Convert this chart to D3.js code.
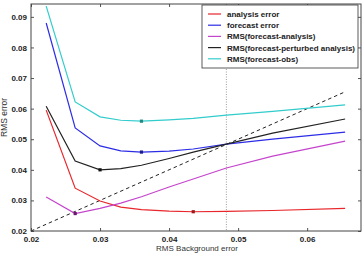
<!DOCTYPE html>
<html>
  <head>
    <meta charset="utf-8">
    <script src="https://d3js.org/d3.v7.min.js"></script>
    <style>
      body { margin: 0; background: #fff; }
      text { font-family: "Liberation Sans", Arial, sans-serif; }
    </style>
  </head>
  <body>
    <div id="my_dataviz"></div>
    <script>
    // background error values (x) shared by every series
    var bgError = [0.0222, 0.0264, 0.030, 0.033, 0.036, 0.040, 0.0435, 0.0483, 0.055, 0.0655];

    var analysisErr = [0.0595, 0.0340, 0.0298, 0.0278, 0.0270, 0.0265, 0.0263, 0.0264, 0.0267, 0.0274];
    var forecastErr = [0.0880, 0.0537, 0.0478, 0.0462, 0.0458, 0.0461, 0.0468, 0.0484, 0.0500, 0.0523];
    var fcAnalysis = [0.0311, 0.0257, 0.0274, 0.0291, 0.0312, 0.0344, 0.0370, 0.0406, 0.0445, 0.0494];
    var fcPerturbed = [0.0608, 0.0429, 0.0400, 0.0404, 0.0415, 0.0437, 0.0458, 0.0484, 0.0520, 0.0566];
    var fcObs = [0.0935, 0.0622, 0.0573, 0.0562, 0.0559, 0.0563, 0.0568, 0.0579, 0.0591, 0.0612];

    var seriesNames = ["analysis error", "forecast error", "RMS(forecast-analysis)",
      "RMS(forecast-perturbed analysis)", "RMS(forecast-obs)"];
    // index of the marked point (minimum) in each series
    var minIndex = [6, 4, 1, 2, 4];

    var xTicks = [0.02, 0.03, 0.04, 0.05, 0.06];
    var yTicks = [0.02, 0.03, 0.04, 0.05, 0.06, 0.07, 0.08, 0.09];
    var diagEnd = 0.0655;
    var optimum = 0.0483;

    var colors = ["#e8262b", "#2c2ce6", "#c544cc", "#222222", "#33cccc"];
    var markColors = ["#a01818", "#1a1a90", "#6a1a6e", "#111111", "#1f8a80"];

    var margin = {top: 4, right: 1, bottom: 22, left: 31},
      width = 362 - margin.left - margin.right,
      height = 253 - margin.top - margin.bottom;

    var svg = d3.select("#my_dataviz")
      .append("svg")
      .attr("width", 362)
      .attr("height", 253)
      .append("g")
      .attr("transform", "translate(" + margin.left + "," + margin.top + ")");

    var x = d3.scaleLinear().domain([0.02, 0.0678]).range([0, width]);
    var y = d3.scaleLinear().domain([0.02, 0.0942]).range([height, 0]);

    // inward ticks on all four sides
    function styleAxis(g) {
      g.select(".domain").remove();
      g.selectAll("line").attr("stroke", "#555");
      g.selectAll("text").attr("font-size", 8).attr("font-weight", "bold").attr("fill", "#222");
    }
    svg.append("g").attr("transform", "translate(0," + height + ")")
      .call(d3.axisBottom(x).tickValues(xTicks).tickSizeInner(-3).tickSizeOuter(0).tickPadding(5).tickFormat(d3.format(".2f")))
      .call(styleAxis);
    svg.append("g")
      .call(d3.axisTop(x).tickValues(xTicks).tickSizeInner(-3).tickSizeOuter(0).tickFormat(""))
      .call(styleAxis);
    svg.append("g")
      .call(d3.axisLeft(y).tickValues(yTicks).tickSizeInner(-3).tickSizeOuter(0).tickPadding(4).tickFormat(d3.format(".2f")))
      .call(styleAxis);
    svg.append("g").attr("transform", "translate(" + width + ",0)")
      .call(d3.axisRight(y).tickValues(yTicks).tickSizeInner(-3).tickSizeOuter(0).tickFormat(""))
      .call(styleAxis);

    // optimum marker line
    svg.append("line")
      .attr("x1", x(optimum)).attr("x2", x(optimum))
      .attr("y1", 0).attr("y2", height)
      .attr("stroke", "#888").attr("stroke-width", 0.8)
      .attr("stroke-dasharray", "1,1.5");

    // y = x reference
    svg.append("line")
      .attr("x1", x(0.02)).attr("y1", y(0.02))
      .attr("x2", x(diagEnd)).attr("y2", y(diagEnd))
      .attr("stroke", "#222").attr("stroke-width", 1)
      .attr("stroke-dasharray", "3.5,3");

    var allSeries = [analysisErr, forecastErr, fcAnalysis, fcPerturbed, fcObs];
    var line = d3.line()
      .x(function (d, i) { return x(bgError[i]); })
      .y(function (d) { return y(d); });

    allSeries.forEach(function (s, k) {
      svg.append("path")
        .datum(s)
        .attr("fill", "none")
        .attr("stroke", colors[k])
        .attr("stroke-width", 1.2)
        .attr("d", line);
    });
    allSeries.forEach(function (s, k) {
      var i = minIndex[k];
      svg.append("rect")
        .attr("x", x(bgError[i]) - 1.6).attr("y", y(s[i]) - 1.6)
        .attr("width", 3.2).attr("height", 3.2)
        .attr("fill", markColors[k]);
    });

    // frame
    svg.append("rect")
      .attr("width", width).attr("height", height)
      .attr("fill", "none").attr("stroke", "#444").attr("stroke-width", 1);

    // legend
    var lg = svg.append("g").attr("transform", "translate(" + (202 - margin.left) + "," + (5 - margin.top) + ")");
    lg.append("rect").attr("width", 156).attr("height", 63)
      .attr("fill", "#fff").attr("stroke", "#333").attr("stroke-width", 0.8);
    seriesNames.forEach(function (name, k) {
      var ly = 9 + k * 11.2;
      lg.append("line").attr("x1", 6).attr("x2", 19).attr("y1", ly).attr("y2", ly)
        .attr("stroke", colors[k]).attr("stroke-width", 1.2);
      lg.append("text").attr("x", 25).attr("y", ly + 3)
        .attr("font-size", 8).attr("font-weight", "bold").attr("fill", "#222")
        .text(name);
    });

    // axis labels
    svg.append("text")
      .attr("x", width / 2 + 1).attr("y", height + 20)
      .attr("text-anchor", "middle").attr("font-size", 8).attr("fill", "#333")
      .text("RMS Background error");
    svg.append("text")
      .attr("transform", "translate(" + (-24) + "," + (height / 2) + ") rotate(-90)")
      .attr("text-anchor", "middle").attr("font-size", 8.5).attr("fill", "#333")
      .text("RMS error");
    </script>
  </body>
</html>
